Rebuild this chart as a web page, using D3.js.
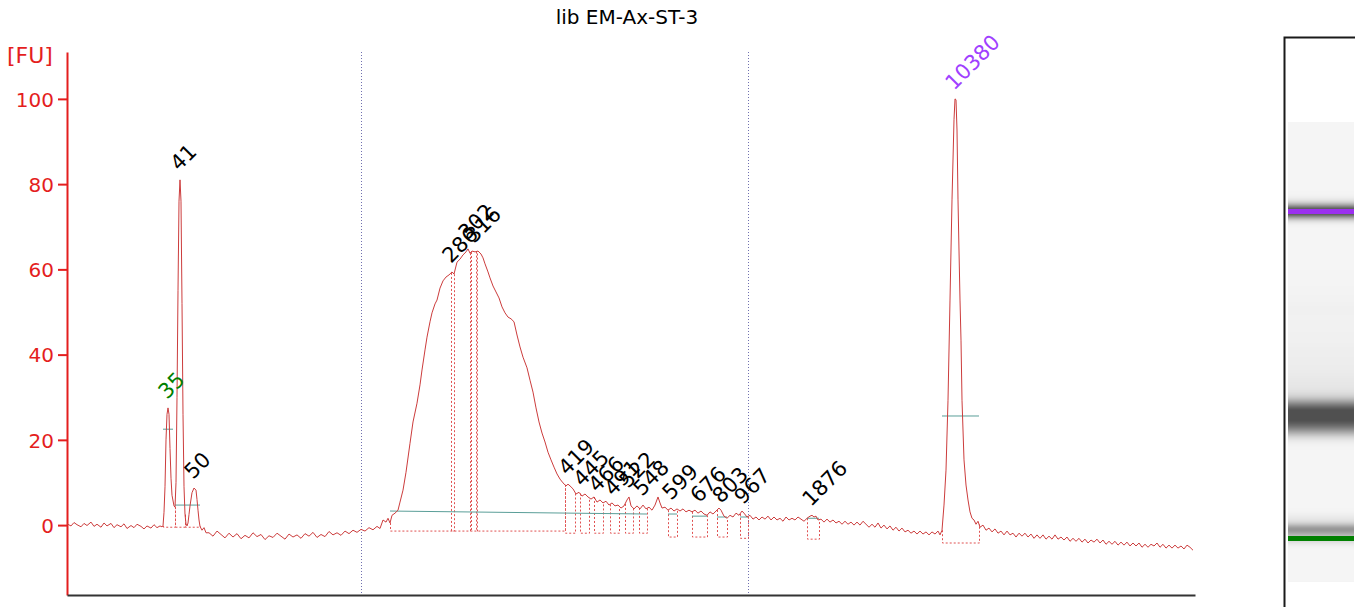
<!DOCTYPE html>
<html>
<head>
<meta charset="utf-8">
<script src="https://cdn.jsdelivr.net/npm/d3@7"></script>
<style>
  html, body { margin: 0; padding: 0; background: #fff; }
  svg { display: block; font-family: "DejaVu Sans", Verdana, sans-serif; }
</style>
</head>
<body>
<svg id="chart" width="1355" height="607"></svg>
<script>
// ---------------- DATA ----------------
const chartTitle = "lib EM-Ax-ST-3";
const yTickValues = [0, 20, 40, 60, 80, 100];
const yUnitLabel = "[FU]";

// electropherogram trace: [time (s), fluorescence (FU)]
const trace = [
  [20.0,0.3],[20.4,-0.2],[20.7,0.6],[21.0,0.1],[21.4,-0.4],[21.7,0.4],[22.0,-0.1],[22.4,0.7],[22.7,-0.3],[23.0,0.2],
  [23.4,-0.5],[23.7,0.5],[24.0,-0.2],[24.4,0.4],[24.7,-0.6],[25.0,0.1],[25.4,-0.4],[25.7,0.3],[26.0,-0.8],[26.4,-0.1],
  [26.7,-0.6],[27.0,0.2],[27.4,-0.3],[27.7,-0.9],[28.0,-0.2],[28.4,-0.7],[28.7,0.1],[29.0,-0.6],[29.3,-0.2],[29.5,-0.4],
  [29.6,-0.2],[29.7,3],[29.8,9],[29.9,20],[30.0,26],[30.1,27.5],[30.2,26],[30.3,18],[30.4,11],[30.5,7],[30.7,4.5],[30.8,4.2],
  [30.9,10],[31.0,30],[31.1,55],[31.2,76],[31.3,81],[31.4,76],[31.5,52],[31.6,26],[31.7,9],[31.8,2.5],[31.9,0.3],[32.0,-0.2],
  [32.1,0.5],[32.2,2.5],[32.3,4.5],[32.5,7.6],[32.7,8.7],[32.9,8.2],[33.0,6],[33.1,3.5],[33.2,1.2],[33.3,-0.3],[33.5,-1.2],
  [33.7,-0.6],[33.9,-1.8],
  [34.2,-1.8],[34.6,-2.6],[35.0,-1.4],[35.4,-2.2],[35.8,-3.0],[36.2,-1.9],[36.6,-2.8],[37.0,-2.0],[37.4,-3.2],[37.8,-2.4],
  [38.2,-3.0],[38.6,-1.8],[39.0,-2.7],[39.4,-2.2],[39.8,-3.4],[40.2,-2.5],[40.6,-2.9],[41.0,-1.9],[41.4,-2.6],[41.8,-3.3],
  [42.2,-2.1],[42.6,-2.8],[43.0,-2.3],[43.4,-3.1],[43.8,-2.0],[44.2,-2.6],[44.6,-1.7],[45.0,-2.9],[45.4,-2.2],[45.8,-2.7],
  [46.2,-1.5],[46.6,-2.3],[47.0,-1.8],[47.4,-2.4],[47.8,-1.4],[48.2,-2.0],[48.6,-1.2],[49.0,-1.7],[49.4,-1.0],[49.8,-1.4],
  [50.2,-0.6],[50.6,-1.1],[51.0,-0.3],[51.3,-0.8],
  [51.6,1.2],[51.9,0.7],[52.1,1.6],[52.3,0.5],[52.5,2.3],[52.8,2.8],[53.1,3.5],[53.3,5.4],[53.6,8.2],[53.9,12.4],
  [54.3,19.2],[54.6,24.2],[55.0,28.6],[55.3,32.9],[55.5,36.4],[55.8,41.1],[56.0,44.1],[56.3,47.7],[56.5,49.8],[56.8,51.9],
  [57.0,52.8],[57.3,55.6],[57.6,57.3],[57.9,58.2],[58.2,58.7],[58.5,59.4],[58.7,58.9],[59.0,61.7],[59.3,62.4],[59.6,63.4],
  [59.9,64.1],[60.1,64.8],[60.3,63.8],[60.5,64.3],[60.8,64.1],[61.1,64.3],[61.4,63.6],[61.6,62.7],[61.8,61.3],[62.1,59.4],
  [62.3,58.0],[62.6,56.1],[62.9,54.7],[63.2,53.3],[63.5,51.2],[63.8,49.8],[64.1,48.8],[64.4,48.4],[64.7,47.7],[65.0,44.6],
  [65.3,41.8],[65.6,39.4],[66.0,36.9],[66.3,34.0],[66.6,31.2],[66.9,27.5],[67.2,24.2],[67.5,21.6],[67.8,19.5],[68.1,17.1],
  [68.4,15.3],[68.7,13.6],[69.0,12.0],[69.3,10.8],[69.6,9.9],[69.9,9.2],[70.1,9.6],[70.3,9.2],[70.6,8.5],[70.9,7.3],
  [71.2,7.7],[71.5,6.8],[71.8,7.3],[72.1,6.6],[72.4,6.1],[72.7,6.6],[73.0,5.4],[73.3,5.9],[73.6,5.2],[73.9,5.6],
  [74.2,4.7],[74.5,5.2],[74.8,4.5],[75.1,4.7],[75.4,4.0],[75.7,4.5],[76.0,5.9],[76.2,6.6],[76.4,4.5],[76.7,3.8],
  [77.0,4.5],[77.3,3.8],[77.6,4.7],[77.9,3.8],[78.2,4.2],[78.5,3.5],[78.8,4.7],[79.1,6.6],[79.3,5.2],[79.5,4.0],
  [79.8,4.2],[80.1,3.5],[80.4,4.0],[80.7,3.3],[81.0,3.8],[81.3,3.3],[81.6,3.8],[81.9,3.1],[82.2,3.5],[82.5,3.1],
  [82.8,3.5],[83.1,2.8],[83.4,3.3],[83.7,2.6],[84.0,2.3],[84.3,3.1],[84.6,2.6],[84.9,3.3],[85.2,4.0],[85.4,3.5],
  [85.7,2.1],[86.0,1.6],[86.3,2.3],[86.6,1.9],[86.9,2.8],[87.2,2.3],[87.5,3.3],[87.7,2.8],[88.0,1.9],[88.3,2.3],
  [88.6,1.4],[88.9,1.9],[89.2,1.2],[89.5,1.9],[89.8,1.4],[90.1,2.1],[90.4,1.2],[90.7,1.9],[91.0,1.2],[91.3,1.6],
  [91.6,0.9],[91.9,1.9],[92.2,1.2],[92.5,1.6],[92.8,1.2],[93.1,1.9],[93.4,1.4],[93.7,0.9],[94.0,1.6],[94.3,2.1],
  [94.5,2.3],[94.7,1.9],[94.9,2.1],[95.1,1.2],[95.4,1.4],[95.7,0.7],[96.0,1.4],[96.3,0.7],[96.6,1.2],[96.9,0.5],
  [97.2,0.9],[97.5,0.2],[97.8,0.9],[98.1,0.2],[98.4,0.7],[98.7,0.0],[99.0,0.7],[99.3,0.0],[99.6,0.9],[99.9,0.2],
  [100.2,-0.5],[100.5,0.2],[100.8,-0.5],[101.1,0.5],[101.4,-0.7],[101.7,0.0],[102.0,-0.9],[102.3,-0.2],[102.6,-1.2],[102.9,-0.5],
  [103.2,-1.4],[103.5,-0.7],[103.8,-1.6],[104.1,-1.2],[104.4,-1.9],[104.7,-1.4],[105.0,-2.1],[105.3,-1.4],[105.6,-2.1],[105.9,-1.6],
  [106.2,-2.3],[106.5,-1.6],[106.8,-2.1],[107.1,-1.4],[107.3,-2.3],[107.5,-1.2],
  [107.7,4.7],[107.9,12.9],[108.1,29.3],[108.3,52.8],[108.5,76.3],[108.7,95.1],[108.8,100],[108.9,99.8],[109.0,92.7],[109.1,76.3],
  [109.3,52.8],[109.4,43.4],[109.5,29.3],[109.7,15.3],[109.9,9.4],[110.1,5.9],[110.3,3.1],[110.5,1.6],[110.7,1.2],[110.9,0.2],
  [111.1,0.9],[111.3,-0.5],[111.6,0.0],[111.9,-1.2],[112.2,-0.7],[112.5,-1.6],[112.8,-0.9],[113.1,-1.9],[113.4,-1.4],[113.7,-2.3],
  [114.0,-1.4],[114.3,-2.3],[114.6,-1.9],[114.9,-2.8],[115.2,-1.9],[115.5,-2.6],[115.8,-1.9],[116.1,-2.8],[116.4,-2.1],[116.7,-3.1],
  [117.0,-2.3],[117.3,-3.1],[117.6,-2.3],[117.9,-3.3],[118.2,-2.6],[118.5,-3.3],[118.8,-2.3],[119.1,-3.3],[119.4,-2.8],[119.7,-3.5],
  [120.0,-2.8],[120.3,-3.8],[120.6,-3.1],[120.9,-3.8],[121.2,-3.1],[121.5,-4.0],[121.8,-3.3],[122.1,-4.2],[122.4,-3.5],[122.7,-4.0],
  [123.0,-3.3],[123.3,-4.2],[123.6,-3.5],[123.9,-4.5],[124.2,-3.8],[124.5,-4.5],[124.8,-3.8],[125.1,-4.7],[125.4,-4.0],[125.7,-4.7],
  [126.0,-4.0],[126.3,-4.9],[126.6,-4.2],[126.9,-4.9],[127.2,-4.2],[127.5,-5.2],[127.8,-4.5],[128.1,-5.2],[128.4,-4.5],[128.7,-4.9],
  [129.0,-4.2],[129.3,-5.2],[129.6,-4.5],[129.9,-5.4],[130.2,-4.7],[130.5,-5.4],[130.8,-4.7],[131.1,-5.4],[131.4,-4.9],[131.7,-5.6],
  [132.0,-4.7],[132.3,-5.2],[132.6,-5.9]
];

// called peaks: size label (bp), migration time (s), label colour
const peakSizes  = [35, 41, 50, 286, 302, 316, 419, 445, 466, 491, 522, 548, 599, 676, 803, 967, 1876, 10380];
const peakTimes  = [30.1, 31.3, 32.7, 58.5, 60.1, 60.8, 70.1, 71.6, 73.1, 74.7, 76.2, 77.6, 80.5, 83.3, 85.5, 87.7, 94.5, 108.8];
const peakColors = ["#008000","#000","#000","#000","#000","#000","#000","#000","#000","#000","#000","#000","#000","#000","#000","#000","#000","#a040ff"];

// peak integration boxes: [start time, end time, lower level (FU)]
const peakBoxes = [
  [29.6, 30.8, -0.5], [30.8, 31.8, -0.5], [31.8, 33.3, -0.5],
  [52.3, 69.8, -1.4], [58.4, 58.7, -1.4], [60.3, 60.4, -1.4], [60.9, 61.0, -1.4],
  [69.8, 70.8, -1.9], [71.3, 72.2, -1.9], [72.7, 73.6, -1.9], [74.3, 75.2, -1.9], [75.8, 76.6, -1.9], [77.2, 78.0, -1.9],
  [80.1, 81.0, -2.8], [82.5, 84.0, -2.8], [85.0, 86.0, -2.8], [87.3, 88.1, -3.1],
  [94.0, 95.2, -3.3], [107.5, 111.2, -4.2]
];

// baseline segments: [t0, v0, t1, v1]
const baselines = [
  [29.6, 22.5, 30.6, 22.5], [30.8, 4.7, 33.3, 4.7],
  [52.3, 3.3, 78.0, 2.6], [80.1, 2.6, 81.0, 2.6], [82.5, 2.1, 84.0, 2.1],
  [85.0, 1.9, 86.0, 1.9], [87.3, 1.9, 88.1, 1.9], [94.0, 1.6, 95.2, 1.6],
  [107.5, 25.6, 111.2, 25.6]
];

// region markers (s)
const regionTimes = [49.4, 88.1];

// gel markers
const gelMarkers = [[35, "#008000"], [10380, "#9b30f0"]];

// ---------------- SCALES ----------------
const svg = d3.select("#chart");
const x = d3.scaleLinear().domain([20, 132.8]).range([67, 1195]);
const y = d3.scaleLinear().domain([-16.4, 111]).range([595, 52]);
const RED = "#e41e1e";

const bis = d3.bisector(d => d[0]).left;
function traceAt(t) {
  if (t <= trace[0][0]) return trace[0][1];
  if (t >= trace[trace.length-1][0]) return trace[trace.length-1][1];
  const i = bis(trace, t);
  const a = trace[i-1], b = trace[i];
  return a[1] + (b[1]-a[1]) * (t - a[0]) / (b[0] - a[0]);
}

// title
svg.append("text").attr("x", 627).attr("y", 24).attr("text-anchor", "middle")
  .attr("font-size", 20).attr("fill", "#000").text(chartTitle);

// region dotted lines
svg.selectAll(".region").data(regionTimes).enter().append("line")
  .attr("x1", d => Math.round(x(d)) + 0.5).attr("x2", d => Math.round(x(d)) + 0.5)
  .attr("y1", 52).attr("y2", 595)
  .attr("stroke", "#7070b0").attr("stroke-width", 1).attr("stroke-dasharray", "1,2");

// y axis
const yAxis = svg.append("g").attr("transform", "translate(67,0)")
  .call(d3.axisLeft(y).tickValues(yTickValues).tickSize(9).tickSizeOuter(0).tickPadding(4));
yAxis.select(".domain").attr("stroke", RED).attr("stroke-width", 2);
yAxis.selectAll(".tick line").attr("stroke", RED).attr("stroke-width", 2);
yAxis.selectAll(".tick text").attr("fill", RED).attr("font-size", 20)
  .attr("font-family", "DejaVu Sans, Verdana, sans-serif").attr("dy", "0.36em");

svg.append("text").attr("x", 30).attr("y", 63).attr("text-anchor", "middle")
  .attr("font-size", 22).attr("fill", RED).text(yUnitLabel);

// x axis line (no labels)
svg.append("g").attr("transform", "translate(0,595)")
  .call(d3.axisBottom(x).tickValues([]).tickSizeOuter(0))
  .select(".domain").attr("stroke", "#333").attr("stroke-width", 2);

// peak boxes
svg.selectAll(".box").data(peakBoxes).enter().append("path")
  .attr("d", d => {
    const x0 = Math.round(x(d[0])) + 0.5, x1 = Math.round(x(d[1])) + 0.5;
    return `M${x0},${y(traceAt(d[0]))}V${y(d[2])}H${x1}V${y(traceAt(d[1]))}`;
  })
  .attr("fill", "none").attr("stroke", "#e05050").attr("stroke-width", 1).attr("stroke-dasharray", "2,2");

// baselines
svg.selectAll(".base").data(baselines).enter().append("line")
  .attr("x1", d => x(d[0])).attr("y1", d => y(d[1]))
  .attr("x2", d => x(d[2])).attr("y2", d => y(d[3]))
  .attr("stroke", "#5a9e98").attr("stroke-width", 1);

// trace
svg.append("path").datum(trace)
  .attr("d", d3.line().x(d => x(d[0])).y(d => y(d[1])))
  .attr("fill", "none").attr("stroke", "#cc3c3c").attr("stroke-width", 1);

// peak labels
svg.selectAll(".plabel").data(peakSizes).enter().append("text")
  .attr("transform", (d, i) => `translate(${x(peakTimes[i]) - 1},${y(traceAt(peakTimes[i])) - 8}) rotate(-45)`)
  .attr("font-size", 21).attr("fill", (d, i) => peakColors[i]).text(d => d);

// ---------------- GEL LANE ----------------
const gelYScale = d3.scaleLog().domain([35, 10380]).range([538.5, 211.5]);
const tOfLogBp = d3.scaleLinear().domain(peakSizes.map(Math.log10)).range(peakTimes);
const rowIdx = d3.range(122, 582);
const rawRows = rowIdx.map(r => Math.max(0, traceAt(tOfLogBp(Math.log10(gelYScale.invert(r + 0.5))))));
// gaussian smoothing of the lane (band diffusion)
const sigma = 4, kernel = d3.range(-12, 13).map(k => Math.exp(-k * k / (2 * sigma * sigma)));
const ksum = d3.sum(kernel);
const gelRows = rowIdx.map((r, i) => {
  let s = 0;
  kernel.forEach((w, j) => {
    const ii = Math.min(rawRows.length - 1, Math.max(0, i + j - 12));
    s += w * rawRows[ii];
  });
  const v = s / ksum;
  const g = Math.round(Math.max(80, Math.min(245, 245 - 2.9 * v)));
  return [r, g];
});
const gel = svg.append("g");
gel.selectAll("rect").data(gelRows).enter().append("rect")
  .attr("x", 1288).attr("y", d => d[0]).attr("width", 66).attr("height", 1)
  .attr("fill", d => `rgb(${d[1]},${d[1]},${d[1]})`);
gel.selectAll(".mk").data(gelMarkers).enter().append("rect")
  .attr("x", 1288).attr("width", 66)
  .attr("y", d => gelYScale(d[0]) - 2.5).attr("height", 5)
  .attr("fill", d => d[1]);
svg.append("path").attr("d", "M1284.5,607V37.5H1355")
  .attr("fill", "none").attr("stroke", "#1a1a1a").attr("stroke-width", 2);
</script>
</body>
</html>
